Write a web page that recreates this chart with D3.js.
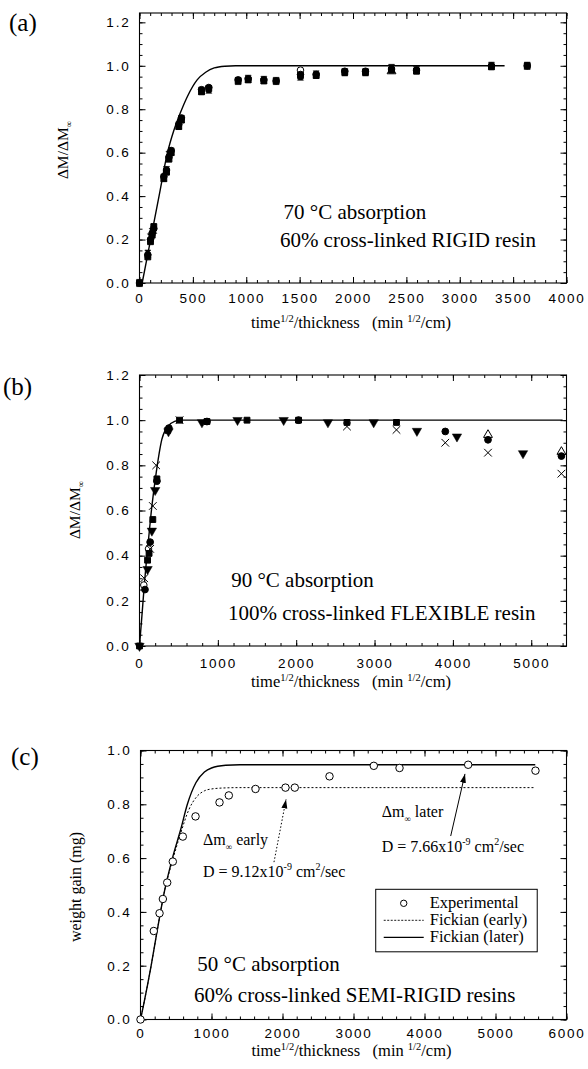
<!DOCTYPE html>
<html>
<head>
<meta charset="utf-8">
<script src="https://cdn.jsdelivr.net/npm/d3@7"></script>
<style>
  body { margin: 0; background: #fff; }
  svg text { fill: #000; }
  .serif { font-family: "Liberation Serif", "Times New Roman", serif; }
  .tick text { font-family: "Liberation Sans", Arial, sans-serif; font-size: 13.5px; letter-spacing: 1.8px; }
</style>
</head>
<body>
<svg id="fig" width="588" height="1069"></svg>
<script>
// ---- panel (a): 70 °C, rigid resin
const tA      = [0, 78, 103, 119, 134, 228, 253, 276, 297, 368, 393, 581, 649, 924, 1018, 1165, 1280, 1508, 1655, 1923, 2117, 2361, 2595, 3297, 3632];
const aCircle = [0, 0.13, 0.20, 0.23, 0.25, 0.49, 0.52, 0.58, 0.61, 0.73, 0.76, 0.89, 0.90, 0.935, 0.94, 0.935, 0.93, 0.96, 0.96, 0.975, 0.975, 0.985, 0.98, 1.0, 1.0];
const aSquare = [0, 0.12, 0.19, 0.22, 0.26, 0.48, 0.51, 0.57, 0.60, 0.72, 0.75, 0.88, 0.895, 0.93, 0.935, 0.93, 0.93, 0.955, 0.955, 0.97, 0.97, 0.98, 0.975, 0.995, 1.0];
const aBowtie = [0, 0.135, 0.21, 0.235, 0.245, 0.485, 0.52, 0.59, 0.605, 0.725, 0.755, 0.885, 0.89, 0.93, 0.94, 0.935, 0.93, 0.95, 0.96, 0.97, 0.97, 0.99, 0.98, 1.0, 1.0];
const tAopenCircle = [1508], aOpenCircle = [0.98];
const tAopenTri = [2361], aOpenTri = [0.975];
const fitA_t = [25, 104, 183, 262, 320, 380, 450, 540, 620, 700, 800, 900, 3420];
const fitA_v = [0, 0.2, 0.4, 0.6, 0.7, 0.78, 0.86, 0.935, 0.97, 0.99, 0.998, 1.0, 1.0];

// ---- panel (b): 90 °C, flexible resin
const tBtri = [0, 103, 158, 200, 370, 797, 1251, 1840, 2405, 2989, 3541, 4052, 4895];
const bTri  = [0, 0.34, 0.51, 0.69, 0.95, 0.99, 1.0, 1.0, 0.99, 0.99, 0.952, 0.927, 0.853];
const tBx   = [60, 136, 170, 213, 511, 2648, 3280, 3903, 4448, 5385];
const bX    = [0.30, 0.43, 0.62, 0.80, 1.0, 0.972, 0.957, 0.90, 0.856, 0.763];
const tBsq  = [0, 103, 122, 170, 222, 360, 511, 861, 1372, 2030, 2648, 3280];
const bSq   = [0, 0.38, 0.41, 0.56, 0.74, 0.955, 1.0, 0.994, 1.0, 1.0, 0.99, 0.99];
const tBcirc = [70, 136, 222, 375, 861, 2030, 3903, 4448, 5385];
const bCirc  = [0.25, 0.46, 0.73, 0.965, 0.994, 1.0, 0.95, 0.913, 0.841];
const tBopenTri = [4448, 5385], bOpenTri = [0.935, 0.86];
const tBopenCirc = [55, 115], bOpenCirc = [0.27, 0.43];
const fitB_t = [0, 30, 60, 115, 158, 213, 286, 370, 450, 520, 5400];
const fitB_v = [0, 0.13, 0.264, 0.471, 0.619, 0.767, 0.916, 0.975, 0.995, 1.0, 1.0];

// ---- panel (c): 50 °C, semi-rigid resins
const tC = [0, 187, 268, 315, 376, 455, 596, 775, 1113, 1244, 1620, 2042, 2173, 2662, 3286, 3648, 4615, 5563];
const cExp = [0, 0.329, 0.395, 0.448, 0.509, 0.587, 0.68, 0.755, 0.807, 0.833, 0.857, 0.862, 0.862, 0.904, 0.943, 0.935, 0.947, 0.925];
const fitLate_t = [0, 40, 150, 235, 340, 450, 570, 660, 780, 900, 1000, 1200, 1400, 5560];
const fitLate_v = [0, 0.05, 0.2, 0.33, 0.48, 0.6, 0.71, 0.8, 0.88, 0.92, 0.935, 0.945, 0.947, 0.947];
const fitEarly_t = [0, 40, 150, 235, 340, 450, 563, 681, 798, 900, 1000, 1200, 1400, 5560];
const fitEarly_v = [0, 0.05, 0.2, 0.33, 0.48, 0.59, 0.69, 0.78, 0.83, 0.85, 0.857, 0.861, 0.862, 0.862];
const legendLabels = ["Experimental", "Fickian (early)", "Fickian (later)"];

const svg = d3.select("#fig");
const sym = (type, size) => d3.symbol().type(type).size(size)();
const bowtie = "M-3,-3.6L3,-3.6L-3,3.6L3,3.6Z";

// frame, inward ticks on all four sides
function frame(x, y, xMajor, xMinor, yMajor, yMinor, pad) {
  const [x0, x1] = x.range(), [y0, y1] = y.range();
  const g = svg.append("g");
  const noDom = a => a.select(".domain").remove();
  const blank = () => "";
  g.append("g").attr("transform", `translate(0,${y0})`)
    .call(d3.axisBottom(x).tickValues(xMajor).tickSize(-6).tickPadding(pad).tickFormat(d3.format("d"))).call(noDom);
  g.append("g").attr("transform", `translate(0,${y0})`)
    .call(d3.axisBottom(x).tickValues(xMinor).tickSize(-3).tickFormat(blank)).call(noDom);
  g.append("g").attr("transform", `translate(0,${y1})`)
    .call(d3.axisTop(x).tickValues(xMajor).tickSize(-6).tickFormat(blank)).call(noDom);
  g.append("g").attr("transform", `translate(0,${y1})`)
    .call(d3.axisTop(x).tickValues(xMinor).tickSize(-3).tickFormat(blank)).call(noDom);
  g.append("g").attr("transform", `translate(${x0},0)`)
    .call(d3.axisLeft(y).tickValues(yMajor).tickSize(-6).tickPadding(9).tickFormat(d3.format(".1f"))).call(noDom);
  g.append("g").attr("transform", `translate(${x0},0)`)
    .call(d3.axisLeft(y).tickValues(yMinor).tickSize(-3).tickFormat(blank)).call(noDom);
  g.append("g").attr("transform", `translate(${x1},0)`)
    .call(d3.axisRight(y).tickValues(yMajor).tickSize(-6).tickFormat(blank)).call(noDom);
  g.append("g").attr("transform", `translate(${x1},0)`)
    .call(d3.axisRight(y).tickValues(yMinor).tickSize(-3).tickFormat(blank)).call(noDom);
  g.append("rect").attr("x", x0).attr("y", y1).attr("width", x1 - x0).attr("height", y0 - y1)
    .attr("fill", "none").attr("stroke", "#000").attr("stroke-width", 1.1);
}

function xTitle(x, yPos) {
  const [x0, x1] = x.range();
  const t = svg.append("text").attr("class", "serif").attr("x", (x0 + x1) / 2 - 2).attr("y", yPos)
    .attr("text-anchor", "middle").attr("font-size", 16.5);
  t.append("tspan").text("time");
  t.append("tspan").attr("dy", -6).attr("font-size", 10.5).text("1/2");
  t.append("tspan").attr("dy", 6).text("/thickness\u00a0\u00a0\u00a0(min\u00a0");
  t.append("tspan").attr("dy", -6).attr("font-size", 10.5).text("1/2");
  t.append("tspan").attr("dy", 6).text("/cm)");
}

function yTitleDM(xPos, yPos) {
  const t = svg.append("text").attr("class", "serif").attr("transform", `translate(${xPos},${yPos}) rotate(-90)`)
    .attr("text-anchor", "middle").attr("font-size", 15.5);
  t.append("tspan").text("\u0394M/\u0394M");
  t.append("tspan").attr("dy", 4).attr("font-size", 9).text("\u221e");
}

function panelLabel(txt, x, y) {
  svg.append("text").attr("class", "serif").attr("x", x).attr("y", y).attr("font-size", 25).text(txt);
}

function note(lines, x, y, size) {
  lines.forEach(l => {
    svg.append("text").attr("class", "serif").attr("x", x(l.u)).attr("y", y(l.v))
      .attr("font-size", size).text(l.text);
  });
}

function points(x, y, ts, vs, path, filled, sw, rot) {
  svg.append("g").selectAll("path").data(ts).join("path")
    .attr("d", path)
    .attr("transform", (d, i) => `translate(${x(d)},${y(vs[i])}) rotate(${rot || 0})`)
    .attr("fill", filled ? "#000" : "#fff")
    .attr("stroke", "#000").attr("stroke-width", sw || 1);
}

function curve(x, y, ts, vs, dash) {
  svg.append("path").datum(ts)
    .attr("fill", "none").attr("stroke", "#000").attr("stroke-width", dash ? 1 : 1.4)
    .attr("stroke-dasharray", dash ? "2,2" : null)
    .attr("d", d3.line().x(d => x(d)).y((d, i) => y(vs[i])).curve(d3.curveMonotoneX));
}

// ================= (a)
const xA = d3.scaleLinear().domain([0, 4000]).range([139.5, 566.5]);
const yA = d3.scaleLinear().domain([0, 1.243]).range([283, 13]);
frame(xA, yA, d3.range(0, 4001, 500), d3.range(0, 4001, 100), d3.range(0, 1.21, 0.2), d3.range(0, 1.241, 0.05), 10);
curve(xA, yA, fitA_t, fitA_v);
points(xA, yA, tAopenCircle, aOpenCircle, sym(d3.symbolCircle, 34), false);
points(xA, yA, tAopenTri, aOpenTri, sym(d3.symbolTriangle, 34), false);
points(xA, yA, tA, aSquare, sym(d3.symbolSquare, 34), true);
points(xA, yA, tA, aCircle, sym(d3.symbolCircle, 34), true);
points(xA, yA, tA, aBowtie, bowtie, true, 0.6);
xTitle(xA, 328);
yTitleDM(68, 150);
panelLabel("(a)", 9, 31);
note([{u: 1350, v: 0.295, text: "70 \u00b0C absorption"},
      {u: 1315, v: 0.165, text: "60% cross-linked RIGID resin"}], xA, yA, 21);

// ================= (b)
const xB = d3.scaleLinear().domain([0, 5450]).range([139.5, 566.5]);
const yB = d3.scaleLinear().domain([0, 1.2]).range([646, 375]);
frame(xB, yB, d3.range(0, 5001, 1000), d3.range(0, 5450, 200), d3.range(0, 1.21, 0.2), d3.range(0, 1.21, 0.05), 12);
curve(xB, yB, fitB_t, fitB_v);
points(xB, yB, tBopenCirc, bOpenCirc, sym(d3.symbolCircle, 34), false);
points(xB, yB, tBopenTri, bOpenTri, sym(d3.symbolTriangle, 34), false);
points(xB, yB, tBsq, bSq, sym(d3.symbolSquare, 34), true);
points(xB, yB, tBcirc, bCirc, sym(d3.symbolCircle, 36), true);
points(xB, yB, tBtri, bTri, sym(d3.symbolTriangle, 38), true, 0.5, 180);
points(xB, yB, tBx, bX, sym(d3.symbolTimes, 40), false, 1);
xTitle(xB, 687);
yTitleDM(80, 510);
panelLabel("(b)", 3, 395);
note([{u: 1170, v: 0.26, text: "90 \u00b0C absorption"},
      {u: 1130, v: 0.115, text: "100% cross-linked FLEXIBLE resin"}], xB, yB, 21);

// ================= (c)
const xC = d3.scaleLinear().domain([0, 6000]).range([140.5, 566.5]);
const yC = d3.scaleLinear().domain([0, 1.0]).range([1019.5, 750.5]);
frame(xC, yC, d3.range(0, 6001, 1000), d3.range(0, 6001, 200), d3.range(0, 1.01, 0.2), d3.range(0, 1.01, 0.05), 9);
curve(xC, yC, fitEarly_t, fitEarly_v, true);
curve(xC, yC, fitLate_t, fitLate_v);
points(xC, yC, tC, cExp, sym(d3.symbolCircle, 44), false, 1);
xTitle(xC, 1056);
svg.append("text").attr("class", "serif").attr("transform", `translate(81,887) rotate(-90)`)
  .attr("text-anchor", "middle").attr("font-size", 16).text("weight gain (mg)");
panelLabel("(c)", 11, 765);
note([{u: 800, v: 0.18, text: "50 \u00b0C absorption"},
      {u: 755, v: 0.065, text: "60% cross-linked SEMI-RIGID resins"}], xC, yC, 21);

// annotations with arrows
const defs = svg.append("defs");
defs.append("marker").attr("id", "ah").attr("markerUnits", "userSpaceOnUse")
  .attr("markerWidth", 10).attr("markerHeight", 7).attr("refX", 9).attr("refY", 3)
  .attr("orient", "auto").append("path").attr("d", "M0,0L9,3L0,6Z").attr("fill", "#000");

function dmLabel(u, v, word) {
  const t = svg.append("text").attr("class", "serif").attr("x", xC(u)).attr("y", yC(v)).attr("font-size", 16);
  t.append("tspan").text("\u0394m");
  t.append("tspan").attr("dy", 5).attr("font-size", 9).text("\u221e");
  t.append("tspan").attr("dy", -5).text("\u00a0" + word);
}
function dLabel(u, v, val) {
  const t = svg.append("text").attr("class", "serif").attr("x", xC(u)).attr("y", yC(v)).attr("font-size", 16);
  t.append("tspan").text("D = " + val + "x10");
  t.append("tspan").attr("dy", -7).attr("font-size", 10).text("-9");
  t.append("tspan").attr("dy", 7).text(" cm");
  t.append("tspan").attr("dy", -7).attr("font-size", 10).text("2");
  t.append("tspan").attr("dy", 7).text("/sec");
}
dmLabel(880, 0.649, "early");
dLabel(880, 0.53, "9.12");
dmLabel(3397, 0.754, "later");
dLabel(3397, 0.624, "7.66");

svg.append("line").attr("x1", xC(1880)).attr("y1", yC(0.585)).attr("x2", xC(2050)).attr("y2", yC(0.818))
  .attr("stroke", "#000").attr("stroke-width", 1).attr("stroke-dasharray", "1.5,2").attr("marker-end", "url(#ah)");
svg.append("line").attr("x1", xC(4369)).attr("y1", yC(0.682)).attr("x2", xC(4570)).attr("y2", yC(0.913))
  .attr("stroke", "#000").attr("stroke-width", 1).attr("marker-end", "url(#ah)");

// legend
const lg = svg.append("g").attr("transform", `translate(${xC(3313)},${yC(0.484)})`);
lg.append("rect").attr("width", 161.5).attr("height", 62.5).attr("fill", "#fff").attr("stroke", "#000").attr("stroke-width", 1);
legendLabels.forEach((lab, i) => {
  const yy = 14 + i * 17;
  if (i === 0) {
    lg.append("circle").attr("cx", 28).attr("cy", yy).attr("r", 3.2).attr("fill", "#fff").attr("stroke", "#000");
  } else {
    lg.append("line").attr("x1", 8).attr("x2", 48).attr("y1", yy).attr("y2", yy).attr("stroke", "#000")
      .attr("stroke-width", i === 1 ? 0.9 : 1.3).attr("stroke-dasharray", i === 1 ? "2,1.5" : null);
  }
  lg.append("text").attr("class", "serif").attr("x", 54).attr("y", yy + 5).attr("font-size", 16.5).text(lab);
});
</script>
</body>
</html>
